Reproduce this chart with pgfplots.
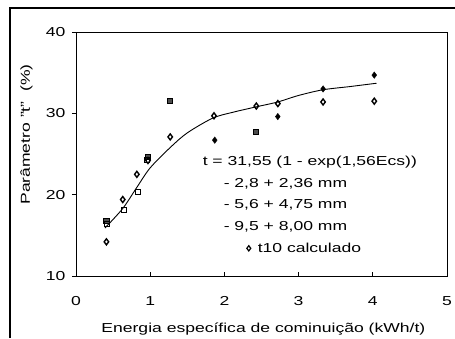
\documentclass[border=0pt]{standalone}
\usepackage{pgfplots}
\pgfplotsset{compat=1.18}
\usepackage{fontspec}
\setmainfont{Liberation Sans}[FakeStretch=1.35]
\newcommand{\fs}{\fontsize{13}{15}\selectfont}
\begin{document}
\begin{tikzpicture}
\path[use as bounding box] (0pt,0pt) rectangle (455pt,338pt);
\draw[line width=1.6pt] (10pt,0pt) -- (10pt,330pt) -- (455pt,330pt);
\begin{axis}[
  at={(76pt,62pt)}, anchor=south west,
  scale only axis, width=371pt, height=244pt,
  xmin=0, xmax=5, ymin=10, ymax=40,
  xtick={0,1,2,3,4,5}, ytick={10,20,30,40},
  xtick pos=bottom, ytick pos=left,
  xtick align=inside, ytick align=outside,
  major tick length=4pt,
  tick style={black, line width=0.7pt},
  axis line style={line width=0.9pt},
  /pgf/number format/assume math mode=true,
  ticklabel style={font=\fs},
  xticklabel style={yshift=-17pt},
  yticklabel style={xshift=-3pt},
  xlabel={Energia específica de cominuição (kWh/t)},
  ylabel={Parâmetro "t"\ \ (\%)},
  xlabel style={font=\fs, at={(axis description cs:0.505,-0.2316)}, anchor=base},
  ylabel style={font=\fs, at={(axis description cs:-0.124,0.58)}, anchor=base},
  legend style={draw=none, fill=none, font=\fs, at={(axis cs:2.30,25.0)}, anchor=north west, row sep=7pt, inner sep=0pt},
  legend cell align=left,
]
\addplot[black, line width=0.9pt, smooth, no marks, legend image code/.code={}] coordinates {
 (0.39,15.9) (0.63,18.3) (0.82,20.9) (1.0,23.3) (1.27,25.8) (1.5,27.6) (1.84,29.4) (2.1,30.1) (2.43,30.8) (2.72,31.4) (3.0,32.2) (3.33,32.9) (3.7,33.3) (4.05,33.7)
};
\addlegendentry{\hspace{-50pt}t = 31,55 (1 - exp(1,56Ecs))}
\addplot[only marks, mark=square*, mark size=2.6pt, draw=black, fill=gray!60!black, line width=1pt, legend image code/.code={}] coordinates {
 (0.41,16.8) (0.97,24.6) (1.27,31.5) (2.43,27.7)
};
\addlegendentry{\hspace{-29pt}- 2,8 + 2,36 mm}
\addplot[only marks, mark=square, mark size=2.5pt, draw=black, line width=0.9pt, legend image code/.code={}] coordinates {
 (0.42,16.4) (0.65,18.1) (0.83,20.3) (0.96,24.3)
};
\addlegendentry{\hspace{-29pt}- 5,6 + 4,75 mm}
\addplot[only marks, mark=diamond*, mark size=3.2pt, draw=black, fill=black, legend image code/.code={}] coordinates {
 (1.87,26.7) (2.72,29.6) (3.33,33.0) (4.02,34.7)
};
\addlegendentry{\hspace{-29pt}- 9,5 + 8,00 mm}
\addplot[only marks, mark=diamond, mark size=3pt, draw=black, line width=1.4pt,
  legend image code/.code={\draw[mark=diamond, mark size=2.6pt, line width=1.2pt] plot coordinates {(0pt,0pt)};}] coordinates {
 (0.41,14.2) (0.63,19.4) (0.82,22.5) (0.97,24.2) (1.27,27.1) (1.86,29.7) (2.43,30.9) (2.72,31.2) (3.33,31.4) (4.02,31.5)
};
\addlegendentry{\hspace{5pt}t10 calculado}
\end{axis}
\end{tikzpicture}
\end{document}
